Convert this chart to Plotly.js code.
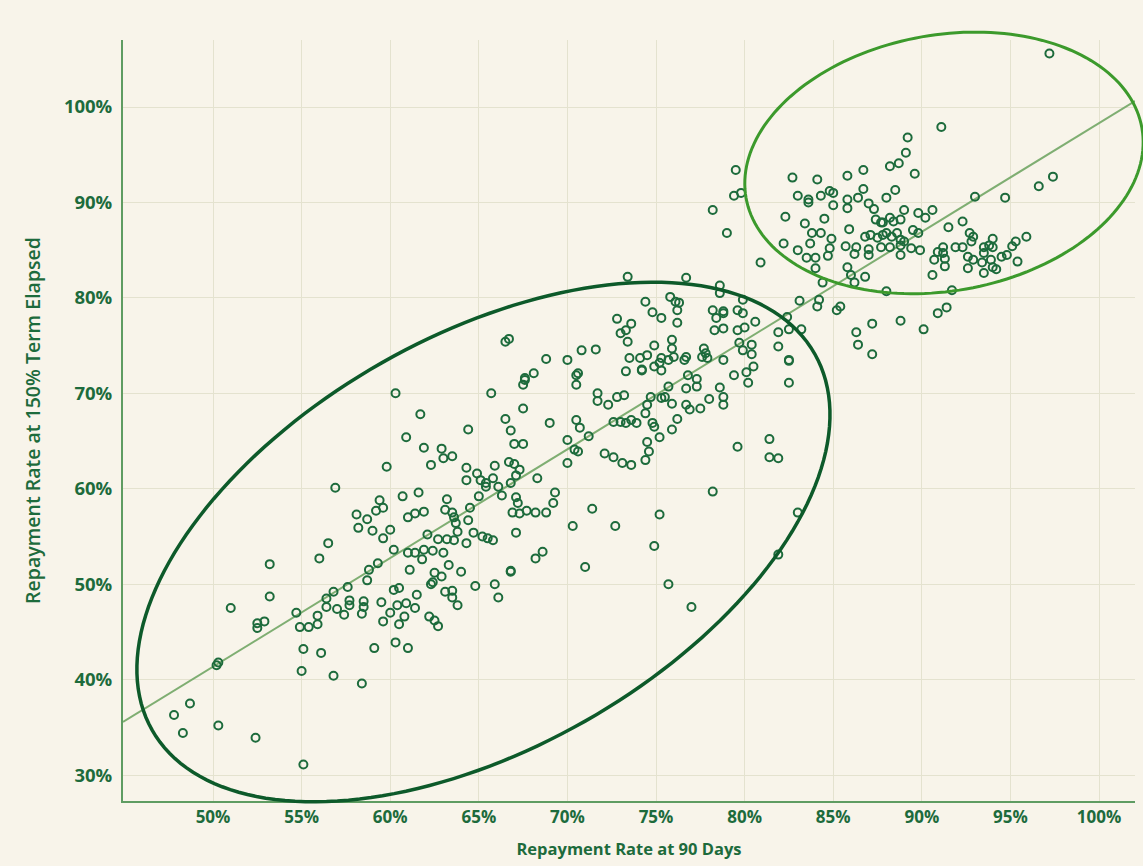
<!DOCTYPE html>
<html>
<head>
<meta charset="utf-8">
<script src="https://cdn.plot.ly/plotly-3.0.1.min.js"></script>
<style>
  html, body { margin: 0; padding: 0; background: #f8f4ea; }
  #chart { width: 1143px; height: 866px; }
</style>
</head>
<body>
<div id="chart"></div>
<script>
// Repayment rate at 90 days (x, %) vs repayment rate at 150% term elapsed (y, %)
const repay90 = [
  56.9,60.7,61.6,59.4,59.6,59.2,58.1,58.7,61.0,61.4,61.9,58.2,59.0,60.0,59.6,56.5,56.0,60.2,61.0,61.4,
  61.8,61.9,61.1,59.3,58.8,58.7,57.6,56.8,53.2,53.2,51.0,52.5,52.9,52.5,54.7,54.9,55.4,55.9,55.9,56.4,
  56.4,57.0,57.4,57.7,57.7,58.5,58.5,58.4,59.5,60.4,60.9,61.4,60.0,59.6,60.5,60.8,61.5,60.2,60.5,55.1,
  56.1,55.0,56.8,58.4,59.1,60.3,61.0,50.3,50.2,48.7,47.8,48.3,50.3,52.4,55.1,62.1,62.2,62.5,62.7,
  60.3,65.7,67.5,67.6,70.5,71.7,71.7,61.7,67.5,66.5,69.0,70.5,70.7,64.4,66.8,60.9,61.9,62.9,63.0,63.5,
  62.3,67.0,67.5,70.0,70.4,70.6,71.2,66.7,67.0,67.3,67.1,65.9,64.3,64.9,64.3,65.1,65.4,65.4,65.8,66.1,
  66.3,66.8,68.3,70.0,65.0,59.8,63.2,63.1,63.5,63.6,63.7,64.5,64.4,63.8,62.7,63.2,63.6,64.7,64.3,65.2,
  65.5,65.8,67.1,66.9,67.3,67.7,68.2,68.8,67.1,67.2,69.3,69.2,71.4,70.3,68.6,68.2,71.0,66.8,66.8,65.9,
  66.1,64.8,64.0,63.3,62.9,62.5,62.4,62.3,63.1,63.5,63.5,63.8,63.0,62.4,
  73.4,76.7,78.6,78.6,74.4,75.8,76.1,76.3,76.2,74.8,75.3,72.8,73.6,73.3,73.0,73.4,76.2,78.2,78.4,78.8,
  78.8,78.3,78.8,79.6,79.9,79.9,79.6,80.0,80.6,79.7,79.9,80.4,80.4,80.1,80.5,80.2,79.4,78.8,77.7,77.8,
  77.6,77.9,76.7,76.6,75.9,75.9,76.0,75.7,75.3,74.9,74.5,74.1,73.5,75.2,74.9,75.3,74.2,74.2,73.3,76.8,
  77.3,77.3,76.7,75.7,75.5,75.3,74.7,74.5,74.4,75.9,76.7,76.9,77.5,78.0,78.6,78.8,78.8,76.2,75.9,75.2,
  74.9,74.8,74.5,74.6,74.4,73.6,73.9,73.3,72.6,73.0,73.2,72.8,72.3,72.1,72.6,73.1,73.6,70.8,71.6,70.0,
  70.5,70.6,81.9,81.9,82.5,82.4,82.5,82.5,82.5,83.1,83.2,84.2,84.1,85.2,85.4,86.3,86.4,81.4,81.4,81.9,
  79.6,
  78.2,72.7,75.2,74.9,75.7,77.0,83.0,81.9,
  66.5,66.7,68.8,68.1,67.6,87.2,87.2,88.8,90.1,
  97.2,91.1,89.2,89.1,89.6,88.2,88.7,86.7,85.8,84.1,82.7,79.5,79.4,79.8,78.2,79.0,80.9,82.3,83.0,83.4,
  82.2,83.0,83.6,83.6,84.3,84.8,85.0,85.0,84.5,83.8,84.3,83.7,84.9,84.8,84.7,83.5,84.0,84.0,84.4,85.8,
  85.8,86.4,86.7,87.0,87.3,85.9,85.7,86.2,86.3,87.0,87.0,86.8,87.1,85.8,86.0,86.2,86.8,87.4,87.7,87.8,
  88.0,88.5,88.2,88.4,88.8,89.0,87.8,88.0,88.3,88.6,88.8,87.5,87.7,88.2,88.8,89.0,89.8,90.2,90.6,89.5,
  89.8,89.4,89.9,88.8,90.6,90.7,91.3,91.2,91.2,90.9,91.5,91.9,92.3,92.3,92.6,92.9,92.6,92.7,92.9,92.8,
  93.0,93.5,93.5,93.4,93.5,93.8,94.0,94.0,93.9,94.0,94.2,94.5,94.8,95.1,95.3,95.9,95.4,94.7,96.6,97.4,
  91.3,91.7,91.4,90.9,88.0
];
const repay150 = [
  60.1,59.2,59.6,58.8,58.0,57.7,57.3,56.8,57.0,57.4,57.6,55.9,55.6,55.7,54.8,54.3,52.7,53.6,53.3,53.3,
  52.6,53.6,51.5,52.2,51.5,50.4,49.7,49.2,52.1,48.7,47.5,45.9,46.1,45.4,47.0,45.5,45.5,45.8,46.7,47.6,
  48.5,47.4,46.8,48.3,47.8,48.2,47.6,46.9,48.1,47.8,48.0,47.5,47.0,46.1,45.8,46.6,48.9,49.4,49.6,43.2,
  42.8,40.9,40.4,39.6,43.3,43.9,43.3,41.8,41.5,37.5,36.3,34.4,35.2,33.9,31.1,55.2,46.6,46.2,45.6,
  70.0,70.0,70.9,71.4,70.9,70.0,69.2,67.8,68.4,67.3,66.9,67.2,66.4,66.2,66.1,65.4,64.3,64.2,63.2,63.4,
  62.5,64.7,64.7,65.1,64.1,63.9,65.5,62.8,62.6,62.0,61.4,62.4,62.2,61.6,60.9,60.9,60.6,60.2,61.1,60.2,
  59.3,60.6,61.1,62.7,59.2,62.3,58.9,57.8,57.5,57.0,56.4,58.0,56.7,55.5,54.7,54.7,54.6,55.4,54.3,55.0,
  54.8,54.6,55.4,57.5,57.4,57.7,57.5,57.5,59.1,58.5,59.6,58.5,57.9,56.1,53.4,52.7,51.8,51.4,51.3,50.0,
  48.6,49.8,51.3,52.0,50.8,51.2,50.2,50.0,49.2,49.3,48.6,47.8,53.3,53.5,
  82.2,82.1,81.3,80.5,79.6,80.1,79.6,79.5,78.7,78.5,77.9,77.8,77.3,76.6,76.3,75.4,77.4,78.7,77.9,78.6,
  78.4,76.6,76.8,78.7,78.4,79.8,76.6,76.9,77.5,75.3,74.5,75.1,74.1,72.2,72.8,71.1,71.9,73.5,74.7,74.2,
  73.8,73.7,73.8,73.5,75.6,74.7,73.8,73.5,73.7,75.0,74.0,73.7,73.7,73.2,72.8,72.4,72.5,72.4,72.3,71.9,
  71.5,70.7,70.5,70.7,69.6,69.5,69.6,68.8,67.9,68.9,68.8,68.3,68.4,69.4,70.6,69.6,68.8,67.3,66.2,65.4,
  66.5,66.9,64.9,63.9,63.0,67.2,66.9,66.9,67.0,67.0,69.8,69.6,68.8,63.7,63.3,62.7,62.5,74.5,74.6,73.5,
  71.9,72.1,74.9,76.4,76.7,78.0,73.5,73.4,71.1,79.7,76.7,79.8,79.1,78.7,79.1,76.4,75.1,65.2,63.3,63.2,
  64.4,
  59.7,56.1,57.3,54.0,50.0,47.6,57.5,53.1,
  75.4,75.7,73.6,72.1,71.6,74.1,77.3,77.6,76.7,
  105.6,97.9,96.8,95.2,93.0,93.8,94.1,93.4,92.8,92.4,92.6,93.4,90.7,91.0,89.2,86.8,83.7,88.5,90.7,87.8,
  85.7,85.0,90.3,90.0,90.7,91.2,91.0,89.7,88.3,86.8,86.8,85.7,86.2,85.2,84.4,84.2,84.2,83.1,81.6,90.3,
  89.4,90.5,91.4,89.9,89.3,87.2,85.4,84.6,85.3,85.1,84.5,86.4,86.6,83.2,82.4,81.6,82.2,88.2,87.9,87.9,
  90.5,91.3,88.4,88.0,88.2,89.2,86.6,86.8,86.4,86.8,86.1,86.3,85.3,85.3,85.5,85.9,88.9,88.4,89.2,87.1,
  86.8,85.2,85.0,84.5,82.4,84.0,84.1,85.3,84.7,84.8,87.4,85.3,88.0,85.3,84.3,84.0,83.1,86.8,86.4,85.9,
  90.6,85.3,84.7,83.7,82.6,85.5,86.2,85.3,84.0,83.2,83.0,84.3,84.5,85.4,85.9,86.4,83.8,90.5,91.7,92.7,
  83.3,80.8,79.0,78.4,80.7
];

// Fitted trend line endpoints (x %, y %)
const trendX = [44.92, 102.03];
const trendY = [35.56, 100.63];

// Axis ticks
const xTickVals = [50, 55, 60, 65, 70, 75, 80, 85, 90, 95, 100];
const yTickVals = [30, 40, 50, 60, 70, 80, 90, 100];
const xTickText = xTickVals.map(v => v + '%');
const yTickText = yTickVals.map(v => v + '%');

const X_RANGE = [44.92, 102.03];
const Y_RANGE = [27.28, 107.02];

const W = 1143, H = 866;
const M = { l: 123, r: 8, t: 40, b: 65 };
const plotW = W - M.l - M.r, plotH = H - M.t - M.b;

// Highlight ellipses: centre in data units, semi-axes in pixels, tilt in degrees
function ellipsePath(cx, cy, aPx, bPx, angDeg) {
  const th = angDeg * Math.PI / 180;
  const px0 = (cx - X_RANGE[0]) / (X_RANGE[1] - X_RANGE[0]);
  const py0 = (cy - Y_RANGE[0]) / (Y_RANGE[1] - Y_RANGE[0]);
  let d = '';
  const n = 180;
  for (let i = 0; i <= n; i++) {
    const t = 2 * Math.PI * i / n;
    const dx = aPx * Math.cos(t) * Math.cos(th) - bPx * Math.sin(t) * Math.sin(th);
    const dy = aPx * Math.cos(t) * Math.sin(th) + bPx * Math.sin(t) * Math.cos(th);
    const x = px0 + dx / plotW, y = py0 + dy / plotH;
    d += (i === 0 ? 'M ' : ' L ') + x.toFixed(5) + ',' + y.toFixed(5);
  }
  return d + ' Z';
}

const green = '#1d6b3c';
const font = '"Open Sans", Lato, sans-serif';

const traces = [
  {
    x: trendX, y: trendY, type: 'scatter', mode: 'lines',
    line: { color: '#7fae72', width: 2 }, hoverinfo: 'skip', showlegend: false
  },
  {
    x: repay90, y: repay150, type: 'scatter', mode: 'markers',
    marker: { symbol: 'circle-open', size: 8, color: green, line: { width: 2, color: green } },
    showlegend: false
  }
];

const layout = {
  width: W, height: H,
  margin: M,
  paper_bgcolor: '#f8f4ea',
  plot_bgcolor: '#f8f4ea',
  showlegend: false,
  font: { family: font, color: green },
  xaxis: {
    range: X_RANGE, tickvals: xTickVals, ticktext: xTickText,
    showgrid: true, gridcolor: '#e4e2cf', gridwidth: 1,
    zeroline: false, showline: true, linecolor: '#5f9c62', linewidth: 2,
    ticks: '', tickfont: { family: font, size: 17, color: green, weight: 'bold' },
    title: { text: 'Repayment Rate at 90 Days', standoff: 16,
             font: { family: font, size: 16.5, color: green, weight: 'bold' } },
    automargin: false
  },
  yaxis: {
    range: Y_RANGE, tickvals: yTickVals, ticktext: yTickText,
    showgrid: true, gridcolor: '#e4e2cf', gridwidth: 1,
    zeroline: false, showline: true, linecolor: '#5f9c62', linewidth: 2,
    ticks: '', ticklabelstandoff: 5,
    tickfont: { family: font, size: 18.5, color: green, weight: 'bold' },
    title: { text: 'Repayment Rate at 150% Term Elapsed', standoff: 18,
             font: { family: font, size: 19.5, color: green, weight: 600 } },
    automargin: false
  },
  shapes: [
    { type: 'path', xref: 'paper', yref: 'paper', layer: 'above',
      path: ellipsePath(65.26, 54.42, 381, 206, 29.6),
      line: { color: '#0d5a2a', width: 3.5 }, fillcolor: 'rgba(0,0,0,0)' },
    { type: 'path', xref: 'paper', yref: 'paper', layer: 'above',
      path: ellipsePath(91.25, 94.14, 201, 128, 10),
      line: { color: '#3c9a2c', width: 3 }, fillcolor: 'rgba(0,0,0,0)' }
  ]
};

Plotly.newPlot('chart', traces, layout, { displayModeBar: false, staticPlot: true });
</script>
</body>
</html>
